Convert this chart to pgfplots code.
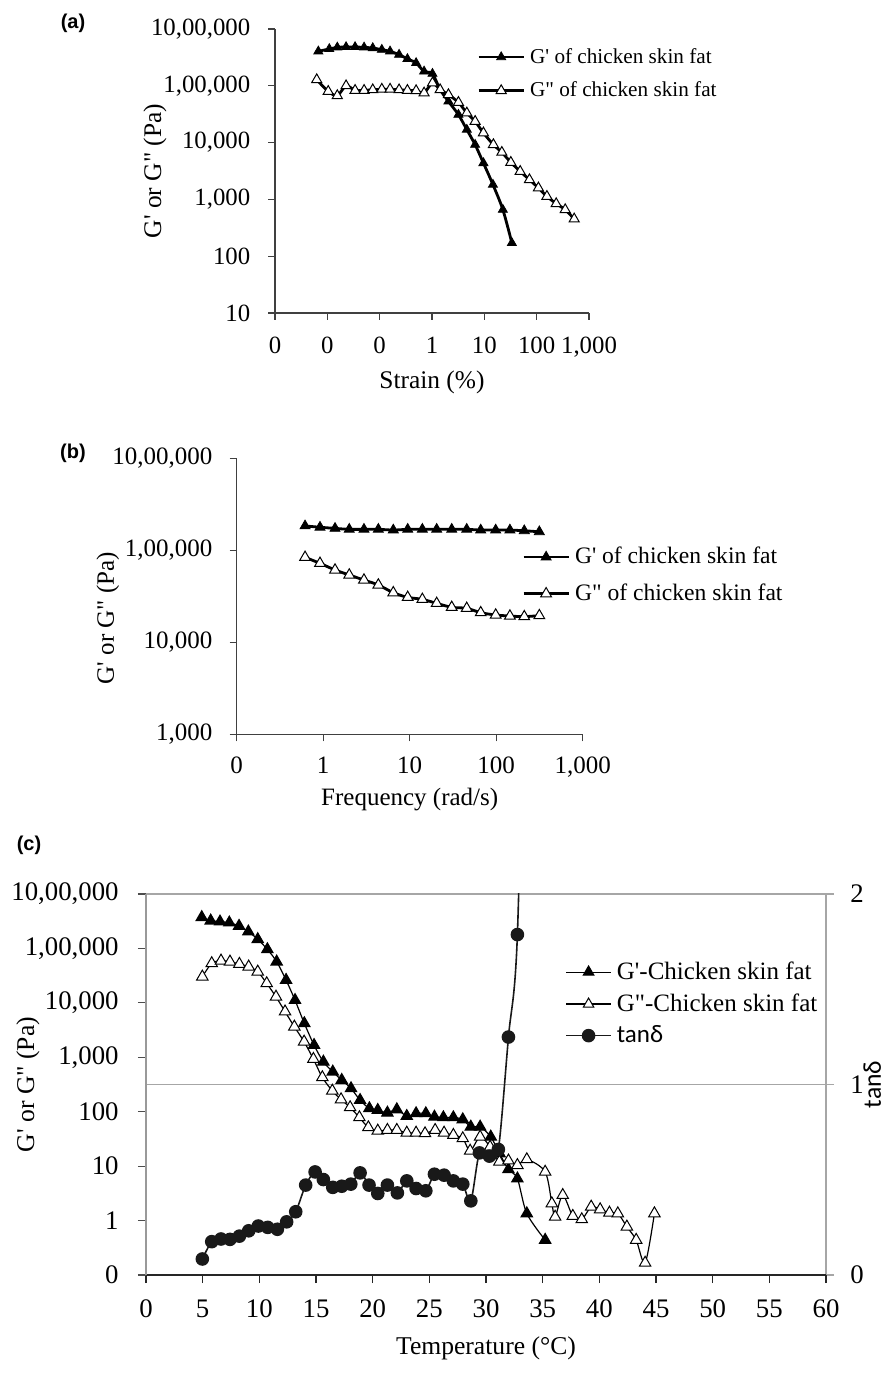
\documentclass[border=0pt]{standalone}
\usepackage{fontspec}
\setmainfont{Liberation Serif}
\newfontfamily\carlito{Carlito}
\newfontfamily\arialfont{Liberation Sans}
\usepackage{pgfplots}
\pgfplotsset{compat=1.18}
\newcommand{\sq}{\textquotesingle}
\newcommand{\dq}{\textquotedbl}

\pgfplotsset{
  rheo/.style={
    scale only axis, anchor=south west,
    axis lines*=left, tick align=outside, major tick length=3.5pt,
    axis line style={black!75, line width=0.6pt},
    tick style={black!75, line width=0.6pt},
    xminorticks=false, yminorticks=false,
    legend cell align=left,
    yticklabel style={anchor=east, inner sep=0pt},
    xticklabel style={anchor=base, inner sep=0pt},
    every axis x label/.style={anchor=center},
    every axis y label/.style={anchor=center, rotate=90},
  },
}

\begin{document}
\begin{tikzpicture}
\useasboundingbox (0,0) rectangle (443.5pt,687.5pt);

% panel labels
\node[font=\arialfont\bfseries\fontsize{10}{12}\selectfont] at (36.5pt,676pt) {(a)};
\node[font=\arialfont\bfseries\fontsize{10}{12}\selectfont] at (36.5pt,461pt) {(b)};
\node[font=\arialfont\bfseries\fontsize{10}{12}\selectfont] at (14.5pt,265pt) {(c)};

% ---------------- (a) strain sweep
\begin{axis}[rheo, at={(137.5pt,531pt)}, width=157pt, height=142pt,
  xmode=log, ymode=log, xmin=0.001, xmax=1000, ymin=10, ymax=1000000,
  xtick={0.001,0.01,0.1,1,10,100,1000}, xticklabels={0,0,0,1,10,100,{1,000}},
  ytick={10,100,1000,10000,100000,1000000},
  yticklabels={10,100,{1,000},{10,000},{1,00,000},{10,00,000}},
  tick label style={font=\fontsize{12.4}{14}\selectfont},
  xticklabel style={yshift=-16.9pt}, yticklabel style={xshift=-8.7pt},
  xlabel={Strain (\%)}, ylabel={G\sq{} or G\dq{} (Pa)},
  label style={font=\fontsize{12.7}{15}\selectfont},
  xlabel style={at={(axis description cs:0.5,-0.243)}},
  ylabel style={at={(axis description cs:-0.382,0.5)}},
  legend image code/.code={\draw[mark repeat=2,mark phase=2,#1] plot coordinates {(0pt,0pt) (11.25pt,0pt) (22.5pt,0pt)};},
  legend style={at={(0.643,0.934)}, anchor=north west, draw=none, fill=none,
    inner sep=0pt, column sep=2.5pt, row sep=7.8pt,
    font=\fontsize{10.6}{12}\selectfont, nodes={inner sep=0pt}},
]
\addplot[black, line width=1.4pt, smooth, mark=triangle*, mark size=2.6pt,
  mark options={solid, fill=black, line width=0.4pt}] coordinates {
  (0.00673,404000) (0.0109,445000) (0.0155,474000) (0.0228,482000)
  (0.0339,482000) (0.0504,474000) (0.0738,462000) (0.110,432000)
  (0.158,404000) (0.235,353000) (0.339,297000) (0.497,252000)
  (0.706,179000) (1.02,163000) (1.43,85400) (2.06,53100)
  (3.20,31000) (4.63,16900) (6.67,9180) (9.61,4370)
  (14.6,1820) (22.6,659) (33.6,171)
};
\addlegendentry{G\sq{} of chicken skin fat}
\addplot[black, line width=1.4pt, smooth, mark=triangle*, mark size=2.9pt,
  mark options={solid, fill=white, line width=0.5pt}] coordinates {
  (0.00627,128000) (0.0104,79700) (0.0155,67000) (0.0228,100000)
  (0.0339,83000) (0.0504,83000) (0.0738,85000) (0.110,87000)
  (0.158,87000) (0.235,85000) (0.339,83000) (0.497,82000)
  (0.706,74700) (1.02,112000) (1.43,85000) (2.06,69700)
  (3.20,51000) (4.63,33200) (6.67,23600) (9.61,14800)
  (14.9,9200) (21.6,6730) (32.1,4480) (48.4,3110)
  (72.8,2220) (108,1590) (157,1130) (236,840)
  (351,659) (521,452)
};
\addlegendentry{G\dq{} of chicken skin fat}
\end{axis}

% ---------------- (b) frequency sweep
\begin{axis}[rheo, at={(118.35pt,320.35pt)}, width=173pt, height=138pt,
  xmode=log, ymode=log, xmin=0.1, xmax=1000, ymin=1000, ymax=1000000,
  xtick={0.1,1,10,100,1000}, xticklabels={0,1,10,100,{1,000}},
  ytick={1000,10000,100000,1000000},
  yticklabels={{1,000},{10,000},{1,00,000},{10,00,000}},
  tick label style={font=\fontsize{12.5}{14}\selectfont},
  xticklabel style={yshift=-16.35pt}, yticklabel style={xshift=-8.5pt},
  xlabel={Frequency (rad/s)}, ylabel={G\sq{} or G\dq{} (Pa)},
  label style={font=\fontsize{12.5}{15}\selectfont},
  xlabel style={at={(axis description cs:0.5,-0.238)}},
  ylabel style={at={(axis description cs:-0.372,0.421)}},
  legend image code/.code={\draw[mark repeat=2,mark phase=2,#1] plot coordinates {(0pt,0pt) (11.25pt,0pt) (22.5pt,0pt)};},
  legend style={at={(0.824,0.679)}, anchor=north west, draw=none, fill=none,
    inner sep=0pt, column sep=2.5pt, row sep=8.5pt,
    font=\fontsize{11.8}{13}\selectfont, nodes={inner sep=0pt}},
]
\addplot[black, line width=1.4pt, smooth, mark=triangle*, mark size=2.9pt,
  mark options={solid, fill=black, line width=0.4pt}] coordinates {
  (0.617,184000) (0.918,178000) (1.37,173000) (2.00,169000)
  (2.96,169000) (4.34,169000) (6.46,166000) (9.48,169000)
  (14.0,169000) (20.5,169000) (30.6,169000) (45.6,169000)
  (66.2,166000) (98.6,166000) (144,166000) (211,163000) (315,159000)
};
\addlegendentry{G\sq{} of chicken skin fat}
\addplot[black, line width=1.4pt, smooth, mark=triangle*, mark size=3.1pt,
  mark options={solid, fill=white, line width=0.5pt}] coordinates {
  (0.617,83900) (0.918,72200) (1.37,61100) (2.00,53900)
  (2.96,47500) (4.34,42000) (6.46,34600) (9.48,30800)
  (14.0,29300) (20.5,26500) (30.6,24000) (45.6,23400)
  (66.2,21000) (98.6,19800) (144,19300) (211,19000) (315,19500)
};
\addlegendentry{G\dq{} of chicken skin fat}
\end{axis}

% ---------------- (c) temperature sweep: secondary axis frame and grid
\begin{axis}[scale only axis, anchor=south west, at={(73pt,50pt)},
  width=340pt, height=190.5pt,
  xmin=0, xmax=60, ymin=0, ymax=2,
  axis x line=none, axis y line*=right,
  ytick={0,1,2}, yticklabels={0,1,2},
  ymajorgrids, grid style={black!35, line width=0.6pt},
  axis line style={black!35, line width=0.6pt},
  tick align=outside, major tick length=4pt,
  tick style={black!35, line width=0.6pt},
  yticklabel style={anchor=west, inner sep=0pt, xshift=8pt,
    font=\fontsize{13.4}{15}\selectfont},
  ylabel={\carlito tanδ},
  ylabel style={at={(axis description cs:1.068,0.5)}, anchor=center,
    font=\fontsize{12.8}{15}\selectfont},
]
\end{axis}

% primary (log) axis with G' and G''
\begin{axis}[rheo, at={(73pt,50pt)}, width=340pt, height=190.5pt,
  xmin=0, xmax=60, ymode=log, ymin=0.1, ymax=1000000,
  major tick length=4pt,
  x axis line style={black!85}, y axis line style={black!40},
  xtick style={black!85}, ytick style={black!70},
  xtick={0,5,...,60}, xticklabels={0,5,10,15,20,25,30,35,40,45,50,55,60},
  ytick={0.1,1,10,100,1000,10000,100000,1000000},
  yticklabels={0,1,10,100,{1,000},{10,000},{1,00,000},{10,00,000}},
  tick label style={font=\fontsize{13.4}{15}\selectfont},
  xticklabel style={yshift=-17.1pt}, yticklabel style={xshift=-9.5pt},
  xlabel={Temperature (°C)}, ylabel={G\sq{} or G\dq{} (Pa)},
  label style={font=\fontsize{12.8}{15}\selectfont},
  xlabel style={at={(axis description cs:0.5,-0.1916)}},
  ylabel style={at={(axis description cs:-0.1735,0.5)}},
]
\addplot[black, line width=0.6pt, smooth, mark=triangle*, mark size=3.2pt,
  mark options={solid, fill=black}] coordinates {
  (4.92,373000) (5.71,323000) (6.53,310000) (7.35,297000)
  (8.21,258000) (9.03,203000) (9.86,147000) (10.71,96000)
  (11.53,57000) (12.36,26200) (13.15,11200) (13.97,4200)
  (14.83,1670) (15.65,826) (16.48,542) (17.27,381)
  (18.09,268) (18.89,163) (19.71,115) (20.45,107)
  (21.30,95.5) (22.13,110) (23.01,83) (23.83,93)
  (24.69,93) (25.45,80.5) (26.24,78.5) (27.12,78.5)
  (27.95,72) (28.66,52.8) (29.48,52.8) (30.42,34.6)
  (31.2,17) (31.98,8.7) (32.77,5.9) (33.60,1.35) (35.22,0.44)
};
\addplot[black, line width=0.6pt, smooth, mark=triangle*, mark size=3.3pt,
  mark options={solid, fill=white, line width=0.5pt}] coordinates {
  (4.97,30200) (5.80,53200) (6.62,59400) (7.41,57000)
  (8.24,51700) (9.06,46100) (9.86,37300) (10.65,22800)
  (11.47,12900) (12.27,6900) (13.09,3640) (13.95,1930)
  (14.77,927) (15.56,427) (16.44,242) (17.21,168)
  (18.01,120) (18.83,78.5) (19.62,51.4) (20.45,44.6)
  (21.30,46) (22.13,46) (23.01,40.9) (23.83,40.9)
  (24.62,39.9) (25.51,45.9) (26.30,40.9) (27.12,37.2)
  (27.95,32.3) (28.60,19.1) (29.48,34.6) (30.36,22.6)
  (31.18,12) (31.98,12.6) (32.77,10.4) (33.60,13.3)
  (35.22,7.85) (35.81,2.06) (36.10,1.17) (36.77,2.93)
  (37.66,1.21) (38.45,1.05) (39.28,1.79) (40.07,1.60)
  (40.89,1.39) (41.63,1.35) (42.43,0.77) (43.25,0.44)
  (44.04,0.167) (44.86,1.35)
};
\end{axis}

% tan delta on the secondary scale, with the legend
\begin{axis}[scale only axis, anchor=south west, at={(73pt,50pt)},
  width=340pt, height=190.5pt,
  xmin=0, xmax=60, ymin=0, ymax=2, hide axis,
  legend cell align=left,
  legend image code/.code={\draw[mark repeat=2,mark phase=2,#1] plot coordinates {(0pt,0pt) (11.25pt,0pt) (22.5pt,0pt)};},
  legend style={at={(0.616,0.823)}, anchor=north west, draw=none, fill=none,
    inner sep=0pt, column sep=2.5pt, row sep=5.65pt,
    font=\fontsize{12.5}{14}\selectfont, nodes={inner sep=0pt}},
]
\addlegendimage{black, line width=0.6pt, mark=triangle*, mark size=3pt, mark options={solid, fill=black}}
\addlegendentry{G\sq{}-Chicken skin fat}
\addlegendimage{black, line width=0.6pt, mark=triangle*, mark size=3pt, mark options={solid, fill=white, line width=0.5pt}}
\addlegendentry{G\dq{}-Chicken skin fat}
\addplot[black!90, line width=0.8pt, smooth, mark=*, mark size=3pt,
  mark options={solid, fill=black!90}] coordinates {
  (4.97,0.084) (5.80,0.175) (6.62,0.189) (7.41,0.187)
  (8.24,0.204) (9.06,0.232) (9.91,0.257) (10.74,0.250)
  (11.59,0.240) (12.41,0.279) (13.21,0.332) (14.09,0.472)
  (14.92,0.541) (15.65,0.501) (16.48,0.460) (17.27,0.466)
  (18.07,0.477) (18.89,0.536) (19.68,0.472) (20.45,0.428)
  (21.30,0.472) (22.18,0.431) (23.01,0.494) (23.83,0.454)
  (24.69,0.442) (25.45,0.529) (26.30,0.524) (27.12,0.494)
  (27.95,0.477) (28.66,0.389) (29.42,0.641) (30.30,0.624)
  (31.09,0.659) (31.98,1.249) (32.77,1.787) (33.60,3.8)
};
\addlegendentry{\carlito tanδ}
\end{axis}
\end{tikzpicture}
\end{document}
